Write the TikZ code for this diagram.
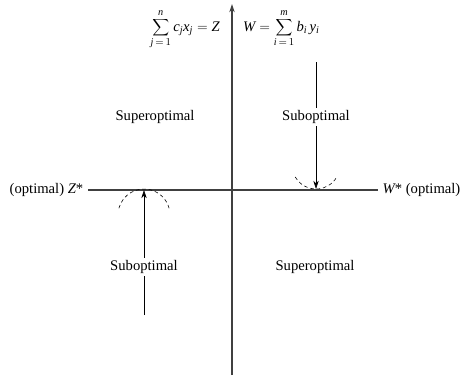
\documentclass[tikz,border=0pt]{standalone}
\usepackage{fontspec}
\setmainfont{Liberation Serif}
\usepackage{tikz}
\usetikzlibrary{positioning,arrows.meta}

\newcommand{\tv}[1]{\mathit{#1}}

\begin{document}
\begin{tikzpicture}[
x=0.03cm,
y=0.03cm,
>={Stealth[length=7pt,width=4.5pt]},
axis/.style={
line width=0.9pt,
draw=black!75
},
label/.style={
inner sep=1pt,
outer sep=3pt,
font=\fontsize{12.5}{15}\selectfont
},
region/.style={
inner sep=2pt,
font=\fontsize{12.5}{15}\selectfont
},
pointer/.style={
line width=0.5pt
},
bound/.style={
line width=0.5pt,
dash pattern=on 3pt off 2.5pt
}
]
\useasboundingbox (0,0) rectangle (461,378);

%%%%%%%%%%%%%%%%%%%%%%%%%%%%%%%%%%%%%%%%%%%%%
% Axes
%%%%%%%%%%%%%%%%%%%%%%%%%%%%%%%%%%%%%%%%%%%%%

\coordinate (vbot) at (232,3);
\coordinate (vtop) at (232,374);

\node[label, anchor=east] (zstar) at (88,188)
{(optimal) $\tv{Z}$*};

\node[label, anchor=west] (wstar) at (378,188)
{$\tv{W}$* (optimal)};

\draw[axis,->] (vbot)--(vtop);

\draw[axis] (zstar)--(wstar);

%%%%%%%%%%%%%%%%%%%%%%%%%%%%%%%%%%%%%%%%%%%%%
% Objective functions
%%%%%%%%%%%%%%%%%%%%%%%%%%%%%%%%%%%%%%%%%%%%%

\node[label, outer sep=0pt, anchor=base east] (zsum) at (221,347)
{$\displaystyle\sum_{\tv{j}\,=\,1}^{\tv{n}} \tv{c_j x_j} = \tv{Z}$};

\node[label, outer sep=0pt, anchor=base west] (wsum) at (242,347)
{$\displaystyle \tv{W} = \sum_{\tv{i}\,=\,1}^{\tv{m}} \tv{b_i\, y_i}$};

%%%%%%%%%%%%%%%%%%%%%%%%%%%%%%%%%%%%%%%%%%%%%
% Regions
%%%%%%%%%%%%%%%%%%%%%%%%%%%%%%%%%%%%%%%%%%%%%

\node[region] (superleft) at (155,261)
{Superoptimal};

\node[region] (subright) at (316,261)
{Suboptimal};

\node[region] (subleft) at (144,111)
{Suboptimal};

\node[region] (superright) at (315,111)
{Superoptimal};

%%%%%%%%%%%%%%%%%%%%%%%%%%%%%%%%%%%%%%%%%%%%%
% Approach to the optimum
%%%%%%%%%%%%%%%%%%%%%%%%%%%%%%%%%%%%%%%%%%%%%

\coordinate (rtop) at (316,316);
\coordinate (rhit) at (316,189);

\coordinate (lbot) at (144,63);
\coordinate (lhit) at (144,188);

\draw[pointer] (rtop)--(subright);

\draw[pointer,->] (subright)--(rhit);

\draw[pointer] (lbot)--(subleft);

\draw[pointer,->] (subleft)--(lhit);

\draw[bound] ([shift={(165:26)}]144,163) arc[start angle=165, end angle=15, radius=26];

\draw[bound] ([shift={(210:24)}]316,213) arc[start angle=210, end angle=330, radius=24];

\end{tikzpicture}
\end{document}
